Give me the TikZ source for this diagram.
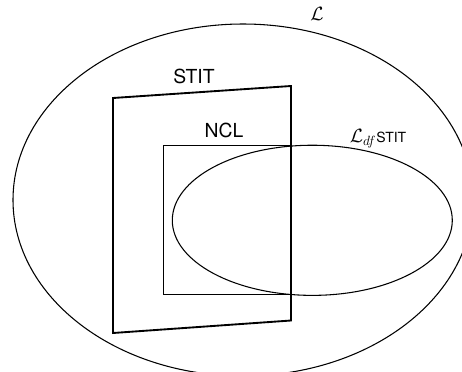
\documentclass[tikz,border=0pt]{standalone}
\usepackage{fontspec}
\setsansfont{TeX Gyre Heros}
\begin{document}
\begin{tikzpicture}[x=0.75pt,y=-0.75pt,
  thinline/.style={line width=0.8pt},
  boxline/.style={line width=1.4pt, line join=miter},
  lbl/.style={font=\sffamily\fontsize{14.5}{17}\selectfont, inner sep=0pt, anchor=base}]
\clip (0,0) rectangle (462,372);
% outer ellipse L
\coordinate (oc) at (243,200);
\draw[thinline] (oc) ellipse [x radius=172.5pt, y radius=132pt];
% STIT quadrilateral
\coordinate (s1) at (113,98);
\coordinate (s2) at (291,86);
\coordinate (s3) at (291,320.5);
\coordinate (s4) at (113,333);
\draw[boxline] (s1) -- (s2) -- (s3) -- (s4) -- cycle;
% NCL rectangle
\coordinate (n1) at (163.5,145.5);
\coordinate (n2) at (291,294.5);
\draw[boxline] (n1) rectangle (n2);
% inner ellipse
\coordinate (ic) at (312.3,220.3);
\draw[thinline] (ic) ellipse [x radius=105pt, y radius=56.3pt];
% labels
\node[inner sep=0pt, anchor=base, font=\fontsize{14}{16}\selectfont] (lL) at (317,20.5) {$\mathcal{L}$};
\node[lbl] (lS) at (194,83) {STIT};
\node[lbl] (lN) at (224,137.5) {NCL};
\node[inner sep=0pt, anchor=base west, font=\fontsize{14}{16}\selectfont] (lD) at (349.5,142.5) {$\mathcal{L}_{df}$\sffamily\fontsize{10.5}{12}\selectfont STIT};
\end{tikzpicture}
\end{document}
